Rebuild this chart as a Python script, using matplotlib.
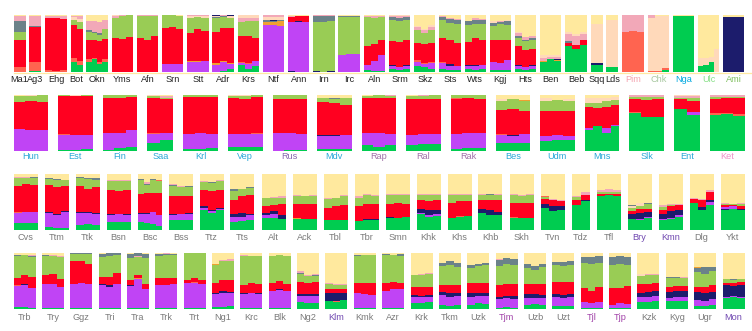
import matplotlib.pyplot as plt
from matplotlib.lines import Line2D

plt.rcParams['font.family'] = ['Liberation Sans', 'DejaVu Sans']

# ancestry component colours, keyed by the letters used in the sample strings
palette = {
    'g': '#00CC50', 'p': '#C044F5', 'n': '#1C1C6C', 'o': '#FF6450',
    'a': '#F0A030', 'r': '#FF0020', 'l': '#99CC55', 's': '#6B8289',
    'k': '#F2A8B8', 'e': '#FFD9BA', 'y': '#FFE99E',
}

# each population: samples separated by "|", each sample lists components bottom to top
row1_names = ['Ma1', 'Ag3', 'Ehg', 'Bot', 'Okn', 'Yms', 'Afn', 'Srn', 'Stt', 'Adr', 'Krs',
              'Ntf', 'Ann', 'Irn', 'Irc', 'Aln', 'Srm', 'Skz', 'Sts', 'Wts', 'Kgj', 'Hts',
              'Ben', 'Beb', 'Sqq', 'Lds', 'Pim', 'Chk', 'Nga', 'Ulc', 'Ami']
row1_colors = ['#222222'] * 26 + ['#F4A4B0', '#A8C8A0', '#00A8E0', '#88E088', '#80C060']
row1_samples = [
    "o8 r49 l13 e1 s19 k9 y1",
    "g1 o17 r61 s1 k19 y1",
    "o3 r91 k5 y1|o1 r93 k5 y1|o3 r90 k6 y1",
    "g18 o6 r58 l10 e4 k3 y1|g12 o8 r56 l12 e5 k6 y1",
    "g17 o5 r34 l14 s3 k17 y10|g22 o3 r32 l12 s2 k19 y10|g14 o4 r37 l10 s3 k20 y12|g18 o4 r36 l18 k16 y8",
    "r60 l34 k5 e1|r58 l41 k1|r62 l38",
    "r60 l38 k2|r56 l42 k2|r63 l35 k2",
    "p14 r63 l23|p14 r65 l21|p14 r61 l24 y1",
    "p18 a1 r49 l27 e3 k2|p18 a1 r56 l21 e2 k2|p19 a1 r52 l23 e3 k2",
    "p13 a2 r55 l24 s2 e3 n1|g2 p16 a2 r58 l18 s3 k1|g6 p8 a2 r62 l17 e3 n2",
    "g12 p4 o2 r45 l25 k6 e6|g6 p8 o1 r48 l27 k5 e5|g10 p10 r40 l30 k5 e5",
    "p82 a6 s3 n1 e5 k3|p83 a5 s2 n2 e4 k4|p80 a9 s3 e4 k4",
    "n1 p86 r10 k2 y1|p88 n1 r9 k1 y1|p88 r10 s1 y1",
    "n1 l86 s11 k2|l87 s11 k2|n1 l88 s9 k2",
    "p29 a1 l66 s3 y1|p31 a1 l65 s2 y1|p31 l66 s2 y1",
    "g3 p10 r33 l50 k3 y1|g2 p18 r30 l45 k4 y1|g2 p28 r27 l39 k3 y1",
    "g5 p6 n1 r42 l37 s5 k3 e1|g4 p4 r44 l37 s6 k3 e2|g6 p5 n1 r45 l35 s4 k3 e1",
    "g10 p8 o3 r30 l22 k6 e2 y19|g8 p6 o2 r34 l18 k5 e2 y25|g6 p10 o2 r33 l22 k6 e3 y18",
    "g6 p9 o2 r42 l32 s6 k1 y2|g4 p7 n3 r42 l30 s7 k2 y5|g4 p6 n1 r40 l34 s6 k2 y7",
    "g5 p6 n2 r40 l30 s6 y11|g3 p8 n1 r48 l25 s7 k2 y6|g5 p7 r45 l28 s6 k2 y7",
    "g3 p15 r38 l25 s5 e3 y11|g4 p12 r40 l28 s4 k2 y10|g3 p18 r36 l26 s6 e3 y8",
    "g5 p6 n2 r32 l14 s4 k6 e2 y29|g4 p4 n1 r30 l16 s2 k4 y39|g6 p5 n2 r28 l15 s3 k5 y36",
    "g18 a2 k4 e6 y70|g22 k4 e4 y70|g20 a1 n1 k5 e3 y70",
    "g45 n1 r5 s3 k12 e4 y30|g40 r8 k15 e3 y34|g47 r10 k10 e3 y30",
    "g13 n2 e70 y15",
    "g8 e83 a1 y8",
    "o70 k30|o72 k28|o71 k29",
    "o2 e93 k5|o2 e96 y2|g3 o4 e91 y2",
    "g98 y2|g98 y2|g98 y2",
    "g10 e15 y75|g12 e12 y76|g18 e8 y74|e40 y60",
    "n97 y3|n96 y4|n97 y3",
]

row2_names = ['Hun', 'Est', 'Fin', 'Saa', 'Krl', 'Vep', 'Rus', 'Mdv', 'Rap', 'Ral', 'Rak',
              'Bes', 'Udm', 'Mns', 'Slk', 'Ent', 'Ket']
row2_colors = ['#2AA8D8'] * 6 + ['#8868B0', '#2AA8D8', '#A070A8', '#A070A8', '#A070A8'] \
    + ['#2AA8D8'] * 5 + ['#F090C8']
row2_samples = [
    "p39 r49 l11 y1|p38 r51 l10 e1|p38 r50 l12",
    "g1 p28 o1 r68 l2|g1 p28 r69 l1 e1|g3 p25 r70 l2",
    "g2 p31 r62 l5|g5 p27 o1 r61 l6|g7 p31 r58 l4",
    "g14 p17 o1 r63 l3 e2|g20 p12 r60 l3 k3 y2",
    "g4 p27 r66 l3|g3 p30 r64 l3|g5 p26 r65 l4",
    "g7 p23 r65 l4 e1|g7 p23 r63 l6 e1|g7 p24 o1 r64 l4",
    "p32 r60 l8|g1 p31 n1 r60 l7|g1 p30 r61 l8",
    "g4 p23 n1 r59 l8 y5|g3 p24 n1 r57 l8 s1 y6|g4 p24 r55 l12 y5",
    "g10 p22 r62 l5 y1|g7 p25 n1 r61 l6|g11 p20 r63 l5 k1",
    "g11 p18 r63 l7 y1|g12 p18 r63 l6 k1|g13 p17 r62 l8",
    "g4 p26 r63 o1 l6|g5 p27 r63 l5|g6 p26 r61 l7",
    "g14 p15 o1 r44 l16 e3 y7|g15 p12 n2 r46 l17 y8|g14 p16 r42 l18 a1 y9",
    "g18 p9 r45 l17 e5 y6|g20 p9 r42 l20 y9|g19 p7 r45 l18 e4 y7",
    "g37 p4 r38 l7 e8 y6|g45 r32 l8 a1 e8 y6|g33 p8 r38 l10 e6 y5|g44 p3 r36 l8 e5 y4",
    "g68 o1 r23 l5 k3|g60 o1 r30 l5 k4|g61 r31 l4 k4",
    "g75 r18 l2 k3 e2|g65 p5 r20 l5 k3 e2",
    "g64 o3 r25 l5 k3|g66 o2 r26 l2 k4|g63 o3 r28 l2 k4",
]

row3_names = ['Cvs', 'Ttm', 'Ttk', 'Bsn', 'Bsc', 'Bss', 'Ttz', 'Tts', 'Alt', 'Ack', 'Tbl',
              'Tbr', 'Smn', 'Khk', 'Khs', 'Khb', 'Skh', 'Tvn', 'Tdz', 'Tfl', 'Bry', 'Kmn',
              'Dlg', 'Ykt']
row3_colors = ['#7A7A7A'] * 20 + ['#7048B0', '#7048B0', '#7A7A7A', '#7A7A7A']
row3_samples = [
    "g12 p19 o1 r47 l13 s1 k2 y5|g13 p19 o1 r50 l10 k2 y5|g12 p20 r48 l13 s1 y6",
    "g5 p26 n2 r48 l10 s1 y8|g3 p24 n1 r48 l13 s2 y9|g4 p28 n2 r44 l11 s1 y10",
    "g9 p22 n2 r45 l15 s1 y6|g10 p21 n1 r42 l17 s2 y7|g9 p20 n2 r46 l13 s2 y8",
    "g14 p13 n2 r42 l17 k2 y10|g14 p14 n1 r40 l18 k3 y10|g14 p13 n2 r43 l16 k2 y10",
    "g15 p14 n2 r33 l25 s2 y9|g12 p16 n2 r36 l14 s3 k2 y15|g10 p22 n1 r33 l23 s2 y9|g8 p18 r40 l22 o1 y11",
    "g17 p10 n1 r32 l18 s2 k2 y18|g18 p10 n1 r31 l17 k2 y21|g17 p11 n2 r30 l16 s2 y22",
    "g36 p4 n2 r30 l13 k3 y12|g30 p4 n1 r35 l14 s2 y14|g35 p3 n1 r33 l15 k3 y10",
    "g14 p10 n5 r25 l16 s3 y27|g16 p8 n6 r30 l14 y26|g17 p9 n3 r33 l13 s2 y23",
    "g21 p5 n5 r12 l15 y42|g22 p6 n6 r10 l13 k2 y41|g20 n6 r20 l12 k3 y39",
    "g20 a1 r25 l14 k2 y38|g19 r27 o1 l13 y40|g20 r27 l14 k2 y37",
    "g18 r22 l15 k2 y43|g17 r25 l15 s1 y42|g18 r27 l16 k2 y37",
    "g16 r27 l15 k2 y40|g17 n2 r27 l16 k2 y36|g18 n1 r27 l15 k2 y37",
    "g22 n1 r24 l16 k2 y35|g21 r27 l15 k2 y35|g23 r24 l15 k2 y36",
    "g28 p2 n8 r16 l8 k2 y36|g23 p3 n9 r17 l10 k3 y35|g25 p3 n8 r18 l9 k2 y35",
    "g22 r27 l13 k2 y36|g23 o2 r26 l12 k2 y35|g25 r26 l12 k2 y35",
    "g30 n7 r16 l9 k2 y36|g27 n8 r18 l9 s2 y36|g26 n7 r20 l10 k2 y35",
    "g22 o1 r25 l14 k2 y36|g22 r26 l13 k2 y37|g21 o1 r26 l14 k2 y36",
    "g40 n6 r10 l3 o1 y40|g34 n8 r12 k2 y44|g36 n6 r10 k2 y46",
    "g44 n1 r8 l6 k2 y39|g52 n1 r10 k4 y33",
    "g60 r5 l3 k4 y28|g62 r3 l3 k5 y27|g60 r5 l2 k4 y29",
    "g20 n8 r6 l5 e4 s2 y55|g18 p2 n10 r7 l6 e5 y52|g22 p2 n8 r6 l8 s2 y52",
    "g17 p2 n10 r6 l6 k3 y56|g20 p2 n12 r8 l2 k2 y54|g24 p2 n10 r8 k2 y54",
    "g48 r7 k3 y42|g35 n6 r12 k2 y45|g45 p5 n3 r15 k3 y29",
    "g35 n3 p3 r4 l2 k2 y51|g38 p4 r3 l2 y53|g36 n2 r5 l3 k2 y52",
]

row4_names = ['Trb', 'Try', 'Ggz', 'Tri', 'Tra', 'Trk', 'Trt', 'Ng1', 'Krc', 'Blk', 'Ng2',
              'Klm', 'Kmk', 'Azr', 'Krk', 'Tkm', 'Uzk', 'Tjm', 'Uzb', 'Uzt', 'Tjl', 'Tjp',
              'Kzk', 'Kyg', 'Ugr', 'Mon']
row4_colors = ['#7A7A7A'] * 11 + ['#7048B0'] + ['#7A7A7A'] * 5 \
    + ['#A040A8', '#7A7A7A', '#7A7A7A', '#A040A8', '#A040A8'] + ['#7A7A7A'] * 3 + ['#7048B0']
row4_samples = [
    "g3 p38 o1 r14 l38 s2 a1 y3|g3 p40 n1 r16 l36 s1 y3|g2 p36 r20 l35 s2 k1 a1 y3",
    "g2 p42 n1 r16 l33 s2 y4|g2 p42 r18 l33 k1 y4|g2 p38 r14 l39 k2 y5",
    "g1 p44 r40 l13 s2|g1 p46 r38 l13 s2|g1 p44 r36 l17 s2",
    "g2 p40 n2 r13 l35 s7 y1|g2 p38 n2 a1 r15 l36 s6|g2 p42 r20 l33 s3",
    "g2 p39 n2 r8 l40 s7 y2|g2 p52 a2 r4 l33 k2 s5|g1 p35 r8 l47 s7 y2",
    "g1 p42 r12 l40 s3 a1 y1|g1 p42 r13 l41 s2 k1|g1 p43 r12 l40 s3 y1",
    "g1 p45 r5 l49|g1 p46 o1 r7 l45|g1 p44 r7 l48",
    "g4 p22 n2 r18 l33 a1 y20|g4 p25 n3 r20 l33 k2 y13|g6 p22 n3 r20 l35 k3 y11",
    "g1 p26 n1 r14 l52 k2 y4|g1 p27 n1 r18 l48 y5|g1 p26 n1 r16 l50 y6",
    "g2 p30 n1 r14 l47 y6|g2 p32 n2 r14 l47 y3|g2 p30 n1 r12 l50 y5",
    "g12 p11 n3 r22 l15 s2 k2 y33|g10 p14 n3 r20 l12 k2 y39|g11 p12 n3 r22 l11 s1 k3 y37",
    "g14 n15 r7 l8 k2 y54|g13 o2 n13 r8 l7 k2 y55|g16 n12 r7 l8 k2 y55",
    "g1 p27 n1 r18 l48 s2 y3|g1 p26 r20 l49 y4|g1 p24 r22 l49 y4",
    "g1 p32 r14 l49 s2 y2|g1 p34 r14 l48 y3|g1 p34 r12 l48 s3 y2",
    "g10 p12 n3 r15 l20 a1 y39|g11 p10 n3 r15 l21 k2 y38|g12 p10 n3 r14 l23 k3 y35",
    "g8 p17 n5 r12 l35 s6 y17|g6 p16 n6 r14 l36 s8 y14|g8 p16 n4 r14 l33 s7 y18",
    "g8 p14 n6 r18 l28 s5 y21|g10 p14 n5 r18 l30 s4 y19|g9 p15 n5 r17 l32 s5 y17",
    "g2 p16 n4 r20 l34 s12 k2 y10|g3 p16 n4 r22 l35 s11 y9|g2 p16 n5 r22 l33 s12 y10",
    "g8 p12 n6 r19 l28 s7 y20|g9 p11 n6 r18 l26 s6 y24|g8 p12 n5 r20 l30 s6 y19",
    "g6 p15 n5 r22 l30 s6 y16|g6 p14 n5 r23 l28 s8 y16|g6 p16 n5 r22 l30 s7 y14",
    "g2 p10 r25 l46 s10 y7|g2 p9 r22 l48 s11 y8|g2 p11 r27 l42 s12 y6",
    "g2 p6 r30 l40 s15 y7|g2 p8 r28 l42 s14 y6|g2 p7 r32 l38 s14 y7",
    "g12 p10 n6 r16 l15 e3 y38|g13 p9 n8 r14 l16 k2 y38|g14 p10 n8 r14 l15 k2 y37",
    "g14 p6 n10 r9 l16 s2 y43|g14 p7 n12 r8 l15 s2 y42|g15 p6 n12 r8 l14 k2 y43",
    "g6 p10 n14 r10 l26 s8 a1 y25|g5 p10 n14 r10 l24 s12 y25|g7 p10 n13 r12 l25 s8 y25",
    "g20 p2 n20 r5 l6 s1 y46|g22 p1 n18 r6 l5 s2 y46|g20 p2 n20 r6 l5 s1 y46",
]

W, H = 752, 331
X0, X1 = 13.5, 744.5

fig = plt.figure(figsize=(W / 100, H / 100), dpi=100)


def parse(sample):
    parts = [(tok[0], float(tok[1:])) for tok in sample.split()]
    total = sum(v for _, v in parts)
    return [(key, v / total) for key, v in parts]


def draw_row(names, label_colors, samples, top, bottom, label_y, wide, narrow):
    groups = [[parse(s) for s in pop.split('|')] for pop in samples]
    widths = [narrow if len(g) <= 2 else wide for g in groups]
    gap = (X1 - X0 - sum(widths)) / (len(widths) - 1)
    x = X0
    for name, lc, group, w in zip(names, label_colors, groups, widths):
        ax = fig.add_axes([x / W, 1 - bottom / H, w / W, (bottom - top) / H])
        for i, sample in enumerate(group):
            base = 0.0
            for key, frac in sample:
                ax.bar(i, frac, bottom=base, width=1.0, align='edge',
                       color=palette[key], linewidth=0)
                base += frac
        ax.set_xlim(0, len(group))
        ax.set_ylim(0, 1)
        ax.axis('off')
        fig.text((x + w / 2) / W, 1 - label_y / H, name, color=lc,
                 fontsize=6.6, ha='center', va='center')
        x += w + gap


# thin baseline under the first row
fig.add_artist(Line2D([X0 / W, 1.0], [1 - 72.6 / H] * 2, color='#FFE9A0', lw=0.9, zorder=-1))

draw_row(row1_names, row1_colors, row1_samples, 15, 72, 80, 21.3, 12)
draw_row(row2_names, row2_colors, row2_samples, 95, 151, 157, 34.6, 26)
draw_row(row3_names, row3_colors, row3_samples, 174, 230, 238, 24, 18)
draw_row(row4_names, row4_colors, row4_samples, 253, 309, 317, 22, 22)

fig.savefig('out.png', dpi=100)
